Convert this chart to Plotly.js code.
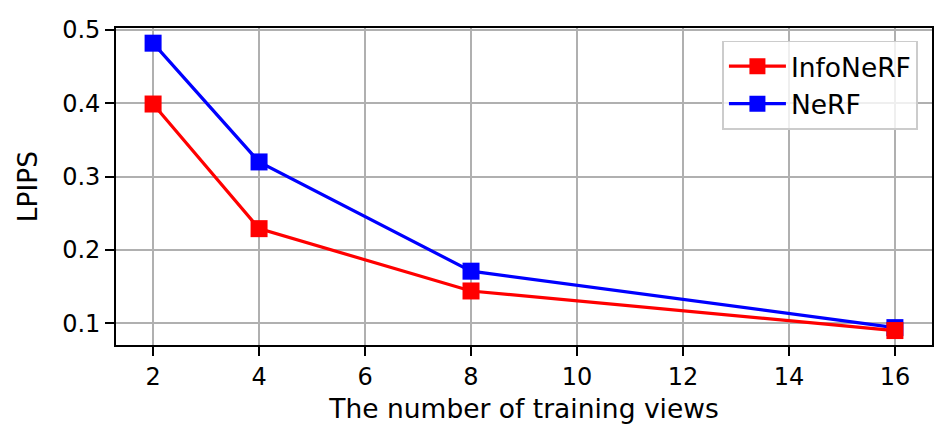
<!DOCTYPE html>
<html>
<head>
<meta charset="utf-8">
<script src="https://cdn.plot.ly/plotly-3.0.1.min.js"></script>
<style>html,body{margin:0;padding:0;background:#fff;}#chart{width:951px;height:445px;}</style>
</head>
<body>
<div id="chart"></div>
<script>
const views = [2, 4, 8, 16];
const infoNerf = [0.399, 0.229, 0.144, 0.090];
const nerf = [0.482, 0.320, 0.171, 0.094];
const seriesNames = ['InfoNeRF', 'NeRF'];
const xTicks = [2, 4, 6, 8, 10, 12, 14, 16];
const yTicks = [0.1, 0.2, 0.3, 0.4, 0.5];

const font = 'DejaVu Sans, sans-serif';
const fs = 24;
const fl = 26.5;
const traces = [
  {x: views, y: nerf, name: seriesNames[1], mode: 'lines+markers',
   line: {color: '#0000ff', width: 3.2}, marker: {symbol: 'square', size: 17, color: '#0000ff'}},
  {x: views, y: infoNerf, name: seriesNames[0], mode: 'lines+markers',
   line: {color: '#ff0000', width: 3.2}, marker: {symbol: 'square', size: 17, color: '#ff0000'}}
];
const axisCommon = {
  showline: true, mirror: true, linecolor: '#000', linewidth: 1.8,
  ticks: 'outside', ticklen: 9, tickwidth: 1.8, tickcolor: '#000',
  showgrid: true, gridcolor: '#b0b0b0', gridwidth: 1.8, zeroline: false,
  automargin: false,
  tickfont: {family: font, size: fs, color: '#000'}
};
const layout = {
  width: 951, height: 445,
  margin: {l: 116, r: 19, t: 28, b: 100},
  paper_bgcolor: '#fff', plot_bgcolor: '#fff',
  font: {family: font, color: '#000'},
  showlegend: true,
  legend: {x: 0.983, xanchor: 'right', y: 0.96, yanchor: 'top',
    bgcolor: 'rgba(255,255,255,0.8)', bordercolor: '#cccccc', borderwidth: 1.8,
    font: {family: font, size: fl, color: '#000'}, traceorder: 'reversed',
    itemwidth: 57, tracegroupgap: 0},
  xaxis: Object.assign({}, axisCommon, {
    range: [1.3, 16.7], tickvals: xTicks, ticktext: xTicks.map(String),
    title: {text: 'The number of training views', font: {family: font, size: fl, color: '#000'}, standoff: 10}
  }),
  yaxis: Object.assign({}, axisCommon, {
    range: [0.0703, 0.5027], tickvals: yTicks, ticktext: yTicks.map(v => v.toFixed(1)),
    title: {text: 'LPIPS', font: {family: font, size: fl, color: '#000'}, standoff: 17}
  })
};
Plotly.newPlot('chart', traces, layout, {displayModeBar: false, staticPlot: true});
</script>
</body>
</html>
